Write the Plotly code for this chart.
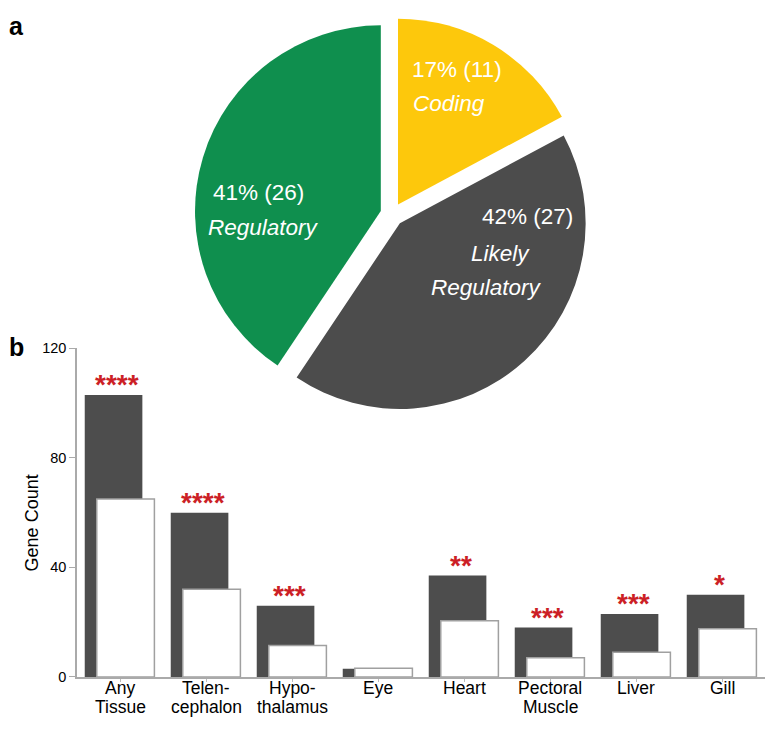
import plotly.graph_objects as go

# ---- Data ----
pie_labels = ["Coding", "Likely<br>Regulatory", "Regulatory"]
pie_values = [11, 27, 26]
pie_colors = ["#FDC80C", "#4C4C4C", "#0F8F4E"]

categories = ["Any\nTissue", "Telen-\ncephalon", "Hypo-\nthalamus", "Eye", "Heart",
              "Pectoral\nMuscle", "Liver", "Gill"]
observed = [103, 60, 26, 3, 37, 18, 23, 30]
expected = [65, 32, 11.5, 3.2, 20.5, 7, 9, 17.6]
stars = ["****", "****", "***", "", "**", "***", "***", "*"]
y_ticks = [0, 40, 80, 120]

FONT = "Liberation Sans, Arial, sans-serif"
OFF = 8                      # page body margin around the plot div
W, H = 774 - 2 * OFF, 732 - 2 * OFF


def px(x):
    return (x - OFF) / W


def py(y):
    return 1 - (y - OFF) / H


x_idx = list(range(len(categories)))

fig = go.Figure()

# ---- Pie (panel a) ----
fig.add_trace(go.Pie(
    labels=pie_labels, values=pie_values, sort=False, direction="clockwise",
    rotation=0, marker=dict(colors=pie_colors, line=dict(width=0)),
    pull=[0.063, 0.063, 0.063], textinfo="none", hoverinfo="label+value",
    showlegend=False,
    domain=dict(x=[px(190), px(594)], y=[py(413), min(1, py(9))]),
))

# ---- Bars (panel b) ----
fig.add_trace(go.Bar(
    x=x_idx, y=observed, width=0.67, offset=-0.41,
    marker=dict(color="#4D4D4D", line=dict(width=0)), showlegend=False,
))
fig.add_trace(go.Bar(
    x=x_idx, y=expected, width=0.67, offset=-0.27,
    marker=dict(color="white", line=dict(color="#A0A0A0", width=1.5)), showlegend=False,
))

annotations = []
total = sum(pie_values)
pie_text_pos = {
    "Coding": [(457, 63, False), (449, 98, True)],
    "Likely<br>Regulatory": [(527, 213, False), (500, 251, True), (486, 286, True)],
    "Regulatory": [(258, 189, False), (263, 224, True)],
}
for lab, val in zip(pie_labels, pie_values):
    pct = round(100 * val / total)
    lines = [f"{pct}% ({val})"] + lab.split("<br>")
    for (tx, ty, ital), txt in zip(pie_text_pos[lab], lines):
        annotations.append(dict(
            x=px(tx), y=py(ty), xref="paper", yref="paper", showarrow=False,
            text=f"<i>{txt}</i>" if ital else txt, xanchor="center", yanchor="middle",
            font=dict(family=FONT, size=22.5, color="white")))

# significance stars
for i, (v, s) in enumerate(zip(observed, stars)):
    if s:
        annotations.append(dict(
            x=i, y=v, xref="x", yref="y", text=f"<b>{s}</b>", showarrow=False,
            xanchor="center", yanchor="bottom", yshift=-7, xshift=-3,
            font=dict(family=FONT, size=28, color="#CC1F26")))

# category labels, one annotation per line (tight leading as in the original)
for i, c in enumerate(categories):
    for j, line in enumerate(c.split("\n")):
        annotations.append(dict(
            x=i, y=0, xref="x", yref="y", text=line, showarrow=False,
            xanchor="center", yanchor="top", yshift=-1 - 19.5 * j,
            borderpad=0, borderwidth=0,
            font=dict(family=FONT, size=17.5, color="black")))

# axis title
annotations.append(dict(
    x=px(32), y=py(527), xref="paper", yref="paper", text="Gene Count",
    textangle=-90, showarrow=False, xanchor="center", yanchor="middle",
    font=dict(family=FONT, size=18, color="black")))

# panel letters
annotations.append(dict(x=px(16.5), y=py(18), xref="paper", yref="paper", text="<b>a</b>",
                        xanchor="center", yanchor="middle", showarrow=False,
                        font=dict(family=FONT, size=25, color="black")))
annotations.append(dict(x=px(16), y=py(346.5), xref="paper", yref="paper", text="<b>b</b>",
                        xanchor="center", yanchor="middle", showarrow=False,
                        font=dict(family=FONT, size=25, color="black")))

fig.update_layout(
    width=W, height=H, margin=dict(l=0, r=0, t=0, b=0),
    paper_bgcolor="white", plot_bgcolor="white", barmode="overlay",
    font=dict(family=FONT, color="black"),
    xaxis=dict(domain=[px(77), px(765)], range=[-0.5, len(categories) - 0.5],
               tickmode="array", tickvals=x_idx, ticktext=[""] * len(categories),
               tickson="boundaries", ticks="outside", ticklen=3, tickcolor="#BBBBBB",
               showline=True, linecolor="#AAAAAA", linewidth=1.5, showgrid=False,
               zeroline=False, fixedrange=True),
    yaxis=dict(domain=[py(684), py(348)], range=[0, 120], tickvals=y_ticks,
               ticks="outside", ticklen=6, tickcolor="#AAAAAA", showline=True,
               linecolor="#AAAAAA", linewidth=1.5, showgrid=False, zeroline=False,
               tickfont=dict(family=FONT, size=14.5, color="black"), fixedrange=True),
    annotations=annotations,
)

fig.write_html("out.html")
